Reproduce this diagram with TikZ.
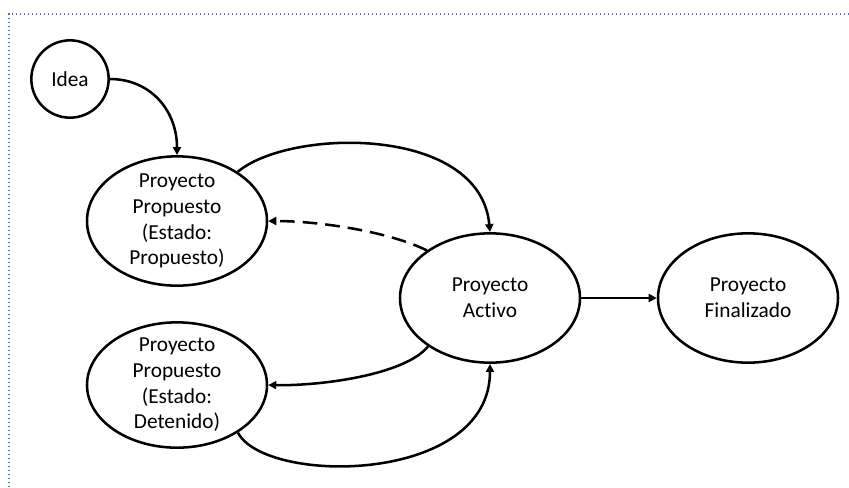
\documentclass[tikz,border=0pt]{standalone}
\usepackage{fontspec}
\setmainfont{Carlito}[Ligatures={NoCommon,NoRare}]
\usetikzlibrary{shapes.geometric,arrows.meta}

\begin{document}
\begin{tikzpicture}[x=0.75pt,y=-0.75pt,
	every node/.style={font=\fontsize{16}{19.3}\selectfont},
	state/.style={draw, ellipse, line width=1.9pt, inner sep=0pt, minimum width=135pt, minimum height=97pt},
	txt/.style={align=center},
	flow/.style={line width=1.9pt, -{Triangle[length=6pt,width=6pt]}}]
	
	\useasboundingbox (0,0) rectangle (849,487);
	
	%frame
	\draw[dotted, line width=1pt, color={rgb,255:red,68;green,114;blue,196}] (9,487) -- (9,14) -- (849,14);
	
	%start node
	\node[draw, circle, line width=1.9pt, minimum size=58pt, inner sep=0pt] (idea) at (70,79){Idea};
	
	%proposed states
	\node[state, label={[txt]center:Proyecto\\Propuesto\\(Estado:\\Propuesto)}] (prop) at (177,221){};
	\node[state, minimum height=94pt, label={[txt]center:Proyecto\\Propuesto\\(Estado:\\Detenido)}] (det) at (177,385){};
	
	%active and finished
	\node[state, label={[txt]center:Proyecto\\Activo}] (act) at (490,298){};
	\node[state, label={[txt]center:Proyecto\\Finalizado}] (fin) at (748,298){};
	
	\draw[flow] (idea.east) .. controls (150,79) and (177,110) .. (prop.north);
	\draw[flow] (prop.39) .. controls (290,128) and (480,125) .. (act.north);
	\draw[flow][dash pattern=on 11pt off 6pt] (act.143) .. controls (390,232) and (320,221) .. (prop.east);
	\draw[flow] (act.east) -- (fin.west);
	\draw[flow] (act.218) .. controls (405,375) and (320,386) .. (det.east);
	\draw[flow] (det.-38) .. controls (265,485) and (490,485) .. (act.south);
	
\end{tikzpicture}
\end{document}
